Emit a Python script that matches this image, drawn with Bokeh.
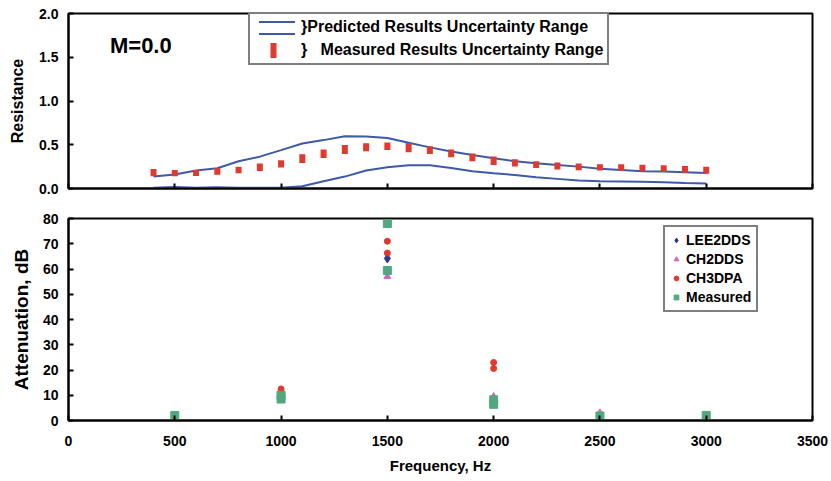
from bokeh.plotting import figure
from bokeh.models import (Legend, LegendItem, Label, FixedTicker, ColumnDataSource,
                          Range1d, PrintfTickFormatter)
from bokeh.layouts import column
from bokeh.embed import file_html
from bokeh.resources import INLINE
from bokeh.core.properties import value

# ---------------- data: top panel (resistance, M=0.0) ----------------
freq = [400, 500, 600, 700, 800, 900, 1000, 1100, 1200, 1300, 1400, 1500, 1600, 1700,
        1800, 1900, 2000, 2100, 2200, 2300, 2400, 2500, 2600, 2700, 2800, 2900, 3000]
pred_upper = [0.136, 0.159, 0.205, 0.231, 0.311, 0.364, 0.439, 0.515, 0.553, 0.598, 0.595,
              0.576, 0.523, 0.470, 0.424, 0.383, 0.345, 0.311, 0.288, 0.269, 0.250, 0.227,
              0.212, 0.197, 0.193, 0.186, 0.178]
pred_lower = [0.010, 0.016, 0.009, 0.014, 0.009, 0.009, 0.010, 0.025, 0.083, 0.136, 0.205,
              0.242, 0.265, 0.265, 0.235, 0.197, 0.174, 0.155, 0.129, 0.110, 0.091, 0.083,
              0.080, 0.076, 0.072, 0.064, 0.058]
meas_low = [0.140, 0.140, 0.142, 0.158, 0.175, 0.200, 0.240, 0.292, 0.350, 0.395, 0.425,
            0.440, 0.415, 0.395, 0.357, 0.312, 0.270, 0.252, 0.233, 0.218, 0.210, 0.206,
            0.203, 0.195, 0.188, 0.180, 0.170]
meas_high = [0.222, 0.212, 0.212, 0.233, 0.248, 0.285, 0.324, 0.392, 0.445, 0.498, 0.517,
             0.525, 0.521, 0.483, 0.445, 0.400, 0.365, 0.335, 0.312, 0.297, 0.286, 0.278,
             0.278, 0.271, 0.267, 0.256, 0.248]

# ---------------- data: bottom panel (attenuation) ----------------
lee_f = [500, 1000, 1500, 2000, 2500, 3000]
lee_db = [1.0, 9.0, 64.2, 8.5, 2.0, 1.5]
ch2_f = [500, 1000, 1500, 2000, 2500, 3000]
ch2_db = [1.0, 9.0, 57.0, 9.5, 3.0, 1.5]
ch3_f = [500, 1000, 1000, 1500, 1500, 2000, 2000]
ch3_db = [0.3, 11.5, 12.5, 66.3, 71.0, 20.6, 23.0]
mea_f = [500, 1000, 1000, 1500, 1500, 2000, 2000, 2500, 3000]
mea_db = [2.0, 8.5, 10.0, 59.4, 78.0, 6.4, 8.2, 1.8, 2.0]

x_ticks = [0, 500, 1000, 1500, 2000, 2500, 3000, 3500]
top_y_ticks = [0.0, 0.5, 1.0, 1.5, 2.0]
bot_y_ticks = [0, 10, 20, 30, 40, 50, 60, 70, 80]

BLUE = "#3d5aa8"
RED = "#e03a2e"
GREEN = "#52a87e"
NAVY = "#2b3790"
PINK = "#c76ec4"
FONT = "Liberation Sans"


def style(p):
    p.background_fill_color = "white"
    p.border_fill_color = "white"
    p.outline_line_color = "black"
    p.outline_line_width = 2
    p.xgrid.visible = False
    p.ygrid.visible = False
    for ax in (p.xaxis[0], p.yaxis[0]):
        ax.axis_line_color = "black"
        ax.axis_line_width = 2
        ax.major_tick_in = 5
        ax.major_tick_out = 0
        ax.major_tick_line_width = 2
        ax.major_tick_line_color = "black"
        ax.minor_tick_line_color = None
        ax.major_label_text_font = FONT
        ax.major_label_text_font_style = "bold"
        ax.major_label_text_font_size = "14px"
        ax.major_label_text_color = "black"
        ax.axis_label_text_font = FONT
        ax.axis_label_text_font_style = "bold"
        ax.axis_label_text_font_size = "15px"
        ax.axis_label_text_color = "black"
        ax.major_label_standoff = 10
        ax.axis_label_standoff = 10


# ---------------- top figure ----------------
p1 = figure(frame_width=744, frame_height=175, min_border_left=68, min_border_right=19,
            min_border_top=13, min_border_bottom=15, output_backend="svg",
            toolbar_location=None, x_range=Range1d(0, 3500), y_range=Range1d(0, 2.0))
style(p1)
p1.xaxis.ticker = FixedTicker(ticks=x_ticks)
p1.xaxis.major_label_overrides = {t: "" for t in x_ticks}
p1.xaxis.major_label_standoff = 0
p1.yaxis.ticker = FixedTicker(ticks=top_y_ticks)
p1.yaxis.formatter = PrintfTickFormatter(format="%.1f")
p1.yaxis.axis_label = "Resistance"
p1.yaxis.axis_label_text_font_size = "16px"

src_top = ColumnDataSource(dict(f=freq, up=pred_upper, lo=pred_lower,
                                mlo=meas_low, mhi=meas_high))
r_up = p1.line("f", "up", source=src_top, line_color=BLUE, line_width=2)
r_lo = p1.line("f", "lo", source=src_top, line_color=BLUE, line_width=2)
r_meas = p1.segment(x0="f", y0="mlo", x1="f", y1="mhi", source=src_top,
                    line_color=RED, line_width=6, line_cap="butt")

# legend-only glyphs, placed outside the visible ranges
leg_pred = p1.quad(left=[-2000], right=[-1000], top=[-2], bottom=[-3], fill_alpha=0,
                   line_color=BLUE, line_width=2, line_dash="36 12")
leg_meas = p1.segment(x0=[-2000], y0=[-2], x1=[-1000], y1=[-2], line_color=RED,
                      line_width=16, line_cap="butt", line_dash="6 200",
                      line_dash_offset=190)

leg1 = Legend(items=[LegendItem(label="}Predicted Results Uncertainty Range", renderers=[leg_pred]),
                     LegendItem(label="}   Measured Results Uncertainty Range", renderers=[leg_meas])],
              location=(180, 123), glyph_width=45, glyph_height=15, label_height=15,
              label_standoff=2, padding=4, spacing=5, margin=0,
              border_line_color="black", border_line_width=2,
              label_text_font=FONT, label_text_font_style="bold",
              label_text_font_size="16px", label_text_color="black",
              background_fill_color="white", background_fill_alpha=1)
p1.add_layout(leg1)

p1.add_layout(Label(x=195, y=1.63, text="M=0.0", text_font=FONT, text_font_style="bold",
                    text_font_size="22px", text_color="black", text_baseline="middle"))

# ---------------- bottom figure ----------------
p2 = figure(frame_width=744, frame_height=202, min_border_left=68, min_border_right=19,
            min_border_top=15, min_border_bottom=61, output_backend="svg",
            toolbar_location=None, x_range=Range1d(0, 3500), y_range=Range1d(0, 80))
style(p2)
p2.xaxis.ticker = FixedTicker(ticks=x_ticks)
p2.yaxis.ticker = FixedTicker(ticks=bot_y_ticks)
p2.xaxis.axis_label = "Frequency, Hz"
p2.yaxis.axis_label = "Attenuation, dB"
p2.yaxis.axis_label_text_font_size = "19px"
p2.yaxis.axis_label_standoff = 8
p2.xaxis.major_label_standoff = 15
p2.xaxis.axis_label_standoff = 8

r1 = p2.scatter(lee_f, lee_db, marker="diamond", size=9, color=NAVY)
r2 = p2.scatter(ch2_f, ch2_db, marker="triangle", size=7, color=PINK)
r3 = p2.scatter(ch3_f, ch3_db, marker="circle", size=6, color=RED)
r4 = p2.scatter(mea_f, mea_db, marker="square", size=8, color=GREEN)

leg2 = Legend(items=[LegendItem(label="LEE2DDS", renderers=[r1]),
                     LegendItem(label="CH2DDS", renderers=[r2]),
                     LegendItem(label="CH3DPA", renderers=[r3]),
                     LegendItem(label="Measured", renderers=[r4])],
              location=(595, 108), glyph_width=12, glyph_height=14, label_height=14,
              label_standoff=4, padding=5, spacing=3, margin=0,
              border_line_color="black", border_line_width=2,
              label_text_font=FONT, label_text_font_style="bold",
              label_text_font_size="14px", label_text_color="black",
              background_fill_color="white", background_fill_alpha=1)
p2.add_layout(leg2)

layout = column(p1, p2, spacing=0)
open("out.html", "w").write(file_html(layout, INLINE))
